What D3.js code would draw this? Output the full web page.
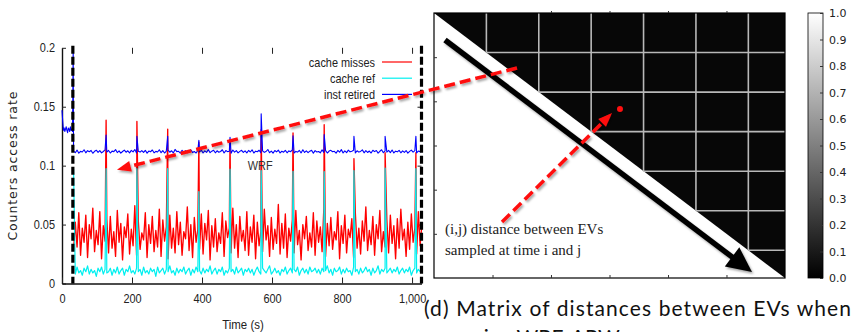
<!DOCTYPE html>
<html>
<head>
<meta charset="utf-8">
<script src="https://cdn.jsdelivr.net/npm/d3@7"></script>
<style>
  body { margin: 0; background: #fff; }
  svg { display: block; }
  .narrow { font-family: "Liberation Sans", Arial, sans-serif; font-size: 13px; }
</style>
</head>
<body>
<script>
// counters, in per mille, one sample every 5 s from t = 33 s
const sampleStart = 33;
const sampleStep = 5;

const redNoise = [
  28,52,31,60,24,47,35,58,22,50,38,64,27,45,33,61,21,49,36,55,
  26,57,30,44,23,62,35,51,20,48,39,59,25,46,32,66,24,53,29,43,
  37,60,22,50,34,57,27,45,31,63,23,54,36,48,21,58,30,47,26,61,
  33,52,24,44,38,65,28,50,22,56,35,46,29,59,25,51,37,62,20,49,
  31,55,27,43,34,60,23,53,39,47,26,64,30,50,22,57,36,45,28,61,
  24,48,35,58,21,52,32,44,27,63,37,49,23,56,29,46,34,67,25,51,
  30,59,22,47,36,54,26,62,33,45,20,50,38,57,28,43,31,60,24,53,
  35,48,27,64,23,51,32,56,29,44,37,61,21,49,34,58,26,46,39,55,
  22,60,30,47,25,53,36,65,28,45,33,57,24,50,38,62,27,44,31,54,
  26,58,34,49,21,55,30,63,37,46,23,52,29,59,35,47,25,61,32,50
];

const cyanNoise = [
  97,8,14,9,11,7,13,10,15,8,12,9,11,6,13,10,14,8,12,9,
  10,13,7,12,9,14,8,11,13,7,12,10,15,9,11,8,13,10,12,7,
  14,9,11,8,13,10,12,6,14,9,11,13,8,12,10,15,9,11,7,13,
  9,12,10,14,8,11,13,7,12,9,14,10,11,8,13,9,12,10,15,8,
  11,13,8,12,10,14,7,11,9,13,10,12,8,14,9,11,13,7,12,10,
  13,9,12,7,11,14,10,8,13,11,9,12,15,8,10,13,9,11,7,12,
  10,14,8,11,13,9,12,10,14,7,11,13,9,12,8,14,10,11,13,9,
  12,8,13,10,11,15,9,12,7,13,10,11,14,8,12,9,13,10,11,7,
  14,10,12,8,13,9,11,14,10,12,7,13,9,11,15,8,12,10,13,9,
  11,13,9,12,10,14,8,11,13,9,12,10,14,7,11,13,9,12,10,12
];

const blueNoise = [
  112.4,111.0,113.2,110.6,112.1,111.6,113.5,110.9,112.7,111.8,112.9,110.5,112.2,113.1,111.3,112.8,110.8,112.0,113.4,111.5,
  112.9,110.7,112.3,111.9,113.6,111.1,112.5,110.6,112.0,113.2,111.4,112.6,110.9,112.9,111.7,113.7,110.8,112.2,111.5,112.8,
  111.2,113.0,110.6,112.4,111.8,113.3,110.9,112.1,111.6,113.5,111.0,112.7,110.7,112.3,113.1,111.4,112.6,110.8,113.8,111.9,
  112.2,110.6,113.0,111.5,112.8,110.9,112.4,113.4,111.1,112.0,110.7,112.9,111.6,113.2,110.8,112.5,111.3,113.6,111.0,112.3,
  113.1,110.9,112.6,111.4,112.0,113.5,110.7,112.8,111.9,112.2,110.6,113.3,111.5,112.7,110.9,112.1,113.0,111.2,112.5,110.8,
  112.9,111.6,113.4,110.7,112.3,111.8,113.1,110.9,112.6,111.3,112.0,113.7,111.0,112.4,110.6,112.8,111.7,113.2,110.8,112.2,
  111.4,113.0,110.9,112.5,111.9,113.3,110.7,112.1,111.5,112.9,110.8,113.5,111.2,112.6,111.0,112.3,113.1,110.6,112.7,111.6,
  112.0,110.9,113.4,111.3,112.8,110.7,112.4,113.0,111.8,112.2,110.6,112.9,111.4,113.6,110.8,112.5,111.1,113.2,111.7,112.3,
  113.0,110.8,112.6,111.5,112.1,113.4,110.9,112.7,111.2,112.4,110.7,113.1,111.9,112.8,110.6,112.2,113.5,111.0,112.6,111.4,
  112.9,111.1,113.3,110.8,112.3,111.7,113.0,110.9,112.5,111.3,112.8,110.6,112.1,113.2,111.5,112.7,110.8,112.4,111.9,112.0
];

// inst retired before the run, one sample every 2 s from t = 0
const blueLeadStep = 2;
const blueLead = [147,138,130,132,129,131,133,130,128,132,131,129,133,130,131,129,200];

// periodic spikes (per mille)
const spikeTimes = [126, 214, 302, 391, 480, 569, 660, 749, 834, 923, 1011];
const redPeaks   = [138.5, 137.5, 131, 120, 122, 130.5, 127.7, 134.7, 106, 111, 111];
const cyanPeaks  = [97.5, 97.5, 97.5, 78, 97, 95.8, 95.2, 95, 95.8, 98, 97.5];
const bluePeaks  = [126, 125, 125, 121.5, 124, 144, 125.4, 126.3, 125, 125, 125];

const xTicks = [0, 200, 400, 600, 800, 1000];
const yTicks = [0, 0.05, 0.1, 0.15, 0.2];
const yTickLabels = ['0', '0.05', '0.1', '0.15', '0.2'];
const markerTimes = [31, 1027];
const seriesNames = ['cache misses', 'cache ref', 'inst retired'];
const seriesColors = ['#ff0000', '#00f0f0', '#0000ff'];

// distance matrix, in sample blocks
const matrixSize = 6.7;
const blockEdges = [1, 2, 3, 4, 5, 6];
const matrixTicks = [1.117, 2.233, 3.35, 4.467, 5.583];
const colorTicks = [0, 0.1, 0.2, 0.3, 0.4, 0.5, 0.6, 0.7, 0.8, 0.9, 1.0];

const width = 852;
const height = 332;

const svg = d3.select('body').append('svg')
  .attr('width', width)
  .attr('height', height);

const defs = svg.append('defs');
defs.append('filter')
  .attr('id', 'shadow')
  .attr('filterUnits', 'userSpaceOnUse')
  .attr('x', 0).attr('y', 0).attr('width', width).attr('height', height)
  .append('feDropShadow')
  .attr('dx', 1.5).attr('dy', 2).attr('stdDeviation', 1.3)
  .attr('flood-color', '#000').attr('flood-opacity', 0.35);

const grad = defs.append('linearGradient')
  .attr('id', 'gray').attr('x1', 0).attr('y1', 1).attr('x2', 0).attr('y2', 0);
grad.append('stop').attr('offset', 0).attr('stop-color', '#000');
grad.append('stop').attr('offset', 1).attr('stop-color', '#fff');

// squeeze text horizontally, the original uses a condensed face
function condense(sel, k) {
  sel.each(function() {
    const w = this.getComputedTextLength();
    if (w > 0) d3.select(this).attr('textLength', w * k).attr('lengthAdjust', 'spacingAndGlyphs');
  });
}

// ---------- left: counters over time ----------
const x = d3.scaleLinear().domain([0, 1027]).range([62, 421.5]);
const y = d3.scaleLinear().domain([0, 0.2]).range([283.5, 47.8]);

function buildSeries(noise, peaks) {
  const pts = noise.map((v, i) => ({ t: sampleStart + i * sampleStep, v: v / 1000 }));
  spikeTimes.forEach((t, k) => pts.push({ t: t, v: peaks[k] / 1000 }));
  return pts.sort((a, b) => a.t - b.t);
}

const redData = buildSeries(redNoise, redPeaks);
const cyanData = buildSeries(cyanNoise, cyanPeaks);
const blueData = blueLead.map((v, i) => ({ t: i * blueLeadStep, v: v / 1000 }))
  .concat(buildSeries(blueNoise, bluePeaks));

function styleAxis(g) {
  g.attr('font-size', null).attr('font-family', null);
  g.selectAll('text').attr('class', 'narrow').attr('fill', '#222').call(condense, 0.84);
  g.selectAll('line').attr('stroke', '#222').attr('stroke-width', 1);
  g.select('.domain').attr('stroke', '#111').attr('stroke-width', 1.4);
}

svg.append('g')
  .attr('transform', `translate(${x(0)},0)`)
  .call(d3.axisLeft(y).tickValues(yTicks).tickFormat((d, i) => yTickLabels[i])
    .tickSize(-4).tickSizeOuter(0).tickPadding(7))
  .call(styleAxis);

svg.append('g')
  .attr('transform', `translate(0,${y(0)})`)
  .call(d3.axisBottom(x).tickValues(xTicks).tickSize(-6).tickSizeOuter(0).tickPadding(10))
  .call(styleAxis);

svg.append('g')
  .attr('transform', `translate(0,${y(0.2)})`)
  .call(d3.axisTop(x).tickValues(xTicks.slice(1)).tickSize(-6).tickFormat(''))
  .call(styleAxis)
  .call(g => g.select('.domain').remove());

svg.append('g')
  .attr('transform', `translate(${x(1027)},0)`)
  .call(d3.axisRight(y).tickValues(yTicks.slice(1, 4)).tickSize(-4).tickFormat(''))
  .call(styleAxis)
  .call(g => g.select('.domain').remove());

const line = d3.line().x(d => x(d.t)).y(d => y(d.v));
const widths = [1.35, 1.2, 1.1];

[redData, cyanData, blueData].forEach((data, i) => {
  svg.append('path')
    .datum(data)
    .attr('fill', 'none')
    .attr('stroke', seriesColors[i])
    .attr('stroke-width', widths[i])
    .attr('stroke-linejoin', 'round')
    .attr('d', line);
});

// start / end of the run
svg.append('g').selectAll('line')
  .data(markerTimes)
  .join('line')
  .attr('x1', d => x(d)).attr('x2', d => x(d))
  .attr('y1', y(0.2) - 2).attr('y2', y(0))
  .attr('stroke', '#000')
  .attr('stroke-width', 3.2)
  .attr('stroke-dasharray', '8,3');

// legend
const legend = svg.append('g');
seriesNames.forEach((name, i) => {
  const ly = 62 + i * 16.2;
  legend.append('text')
    .attr('class', 'narrow')
    .attr('x', 375).attr('y', ly + 4.5)
    .attr('text-anchor', 'end')
    .attr('fill', '#222')
    .text(name)
    .call(condense, 0.84);
  legend.append('line')
    .attr('x1', 382).attr('x2', 412)
    .attr('y1', ly).attr('y2', ly)
    .attr('stroke', seriesColors[i])
    .attr('stroke-width', 1.2);
});

svg.append('text')
  .attr('class', 'narrow')
  .attr('x', x(566)).attr('y', y(0.0966))
  .attr('text-anchor', 'middle')
  .attr('fill', '#333')
  .text('WRF')
  .call(condense, 0.84);

svg.append('text')
  .attr('transform', `translate(17,${y(0.1)}) rotate(-90)`)
  .attr('text-anchor', 'middle')
  .attr('fill', '#222')
  .style('font-family', '"DejaVu Sans", sans-serif')
  .style('font-size', '12.5px')
  .style('letter-spacing', '0.9px')
  .text('Counters access rate');

svg.append('text')
  .attr('class', 'narrow')
  .attr('x', x(517)).attr('y', 329)
  .attr('text-anchor', 'middle')
  .attr('fill', '#222')
  .text('Time (s)')
  .call(condense, 0.88);

// ---------- right: matrix of distances ----------
const mx = d3.scaleLinear().domain([0, matrixSize]).range([434, 785]);
const my = d3.scaleLinear().domain([0, matrixSize]).range([13, 278]);

svg.append('path')
  .attr('d', `M${mx(0)},${my(0)}L${mx(matrixSize)},${my(0)}L${mx(matrixSize)},${my(matrixSize)}Z`)
  .attr('fill', '#070707');

const grid = svg.append('g')
  .attr('stroke', '#b8b8b8')
  .attr('stroke-width', 1.6);
grid.selectAll('.v')
  .data(blockEdges)
  .join('line')
  .attr('class', 'v')
  .attr('x1', d => mx(d)).attr('x2', d => mx(d))
  .attr('y1', my(0)).attr('y2', d => my(d));
grid.selectAll('.h')
  .data(blockEdges)
  .join('line')
  .attr('class', 'h')
  .attr('x1', d => mx(d)).attr('x2', mx(matrixSize))
  .attr('y1', d => my(d)).attr('y2', d => my(d));

svg.append('rect')
  .attr('x', mx(0)).attr('y', my(0))
  .attr('width', mx(matrixSize) - mx(0))
  .attr('height', my(matrixSize) - my(0))
  .attr('fill', 'none')
  .attr('stroke', '#000')
  .attr('stroke-width', 1.2);

const tickStyle = g => {
  g.select('.domain').remove();
  g.selectAll('line').attr('stroke', '#333');
};
svg.append('g').attr('transform', `translate(${mx(0)},0)`)
  .call(d3.axisLeft(my).tickValues(matrixTicks).tickSize(-3).tickFormat('')).call(tickStyle);
svg.append('g').attr('transform', `translate(0,${my(matrixSize)})`)
  .call(d3.axisBottom(mx).tickValues(matrixTicks).tickSize(-3).tickFormat('')).call(tickStyle);
svg.append('g').attr('transform', `translate(0,${my(0)})`)
  .call(d3.axisTop(mx).tickValues(matrixTicks.slice(1)).tickSize(2).tickFormat('')).call(tickStyle);

// arrows
function arrow(g, p0, p1, headLen, headHalf) {
  const dx = p1[0] - p0[0], dy = p1[1] - p0[1];
  const len = Math.hypot(dx, dy);
  const ux = dx / len, uy = dy / len;
  const bx = p1[0] - ux * headLen, by = p1[1] - uy * headLen;
  const shaft = g.append('line')
    .attr('x1', p0[0]).attr('y1', p0[1])
    .attr('x2', bx + ux * 2).attr('y2', by + uy * 2);
  const head = g.append('path')
    .attr('d', `M${p1[0]},${p1[1]}L${bx - uy * headHalf},${by + ux * headHalf}L${bx + uy * headHalf},${by - ux * headHalf}Z`);
  return { shaft, head };
}

// black diagonal arrow
const diag = svg.append('g').attr('filter', 'url(#shadow)');
const da = arrow(diag, [mx(0.21), my(0.683)], [mx(6.07), my(6.548)], 25, 12);
da.shaft.attr('stroke', '#000').attr('stroke-width', 5.5);
da.head.attr('fill', '#000');

const serif = '"Liberation Serif", "Times New Roman", serif';
svg.append('text')
  .attr('x', mx(0.21)).attr('y', my(5.587))
  .style('font-family', serif)
  .style('font-size', '15px')
  .attr('fill', '#222')
  .text('(i,j) distance between EVs');
svg.append('text')
  .attr('x', mx(0.21)).attr('y', my(6.118))
  .style('font-family', serif)
  .style('font-size', '15px')
  .attr('fill', '#222')
  .text('sampled at time i and j');

// colorbar
const cb = d3.scaleLinear().domain([0, 1]).range([278, 13]);
svg.append('rect')
  .attr('x', 808).attr('y', cb(1))
  .attr('width', 15).attr('height', cb(0) - cb(1))
  .attr('fill', 'url(#gray)')
  .attr('stroke', '#000')
  .attr('stroke-width', 0.8);
svg.append('g')
  .attr('transform', 'translate(823,0)')
  .call(d3.axisRight(cb).tickValues(colorTicks).tickSize(-3).tickPadding(6).tickFormat(d3.format('.1f')))
  .call(g => {
    g.attr('font-size', null).attr('font-family', null);
    g.select('.domain').remove();
    g.selectAll('line').attr('stroke', '#333');
    g.selectAll('text').attr('fill', '#222')
      .style('font-family', '"DejaVu Sans", sans-serif').style('font-size', '11px');
  });

// red dashed arrows on top
const red = svg.append('g').attr('filter', 'url(#shadow)');
const r1 = arrow(red, [mx(1.584), my(1.39)], [x(157), y(0.0966)], 14, 5.5);
const r2 = arrow(red, [mx(1.298), my(5.284)], [mx(3.398), my(2.528)], 14, 5.5);
[r1, r2].forEach(a => {
  a.shaft.attr('stroke', '#ff1010').attr('stroke-width', 3.5).attr('stroke-dasharray', '11,5');
  a.head.attr('fill', '#ff1010');
});
svg.append('circle')
  .attr('cx', mx(3.55)).attr('cy', my(2.427))
  .attr('r', 3)
  .attr('fill', '#ff1010');

// caption
svg.append('text')
  .attr('x', 424).attr('y', 316)
  .attr('textLength', 427)
  .attr('lengthAdjust', 'spacing')
  .style('font-family', 'Lato, "Open Sans", sans-serif')
  .style('font-size', '21px')
  .attr('fill', '#111')
  .text('(d) Matrix of distances between EVs when');
svg.append('text')
  .attr('x', 463).attr('y', 345)
  .style('font-family', 'Lato, "Open Sans", sans-serif')
  .style('font-size', '21px')
  .attr('fill', '#111')
  .text('using WRF-ARW');
</script>
</body>
</html>
